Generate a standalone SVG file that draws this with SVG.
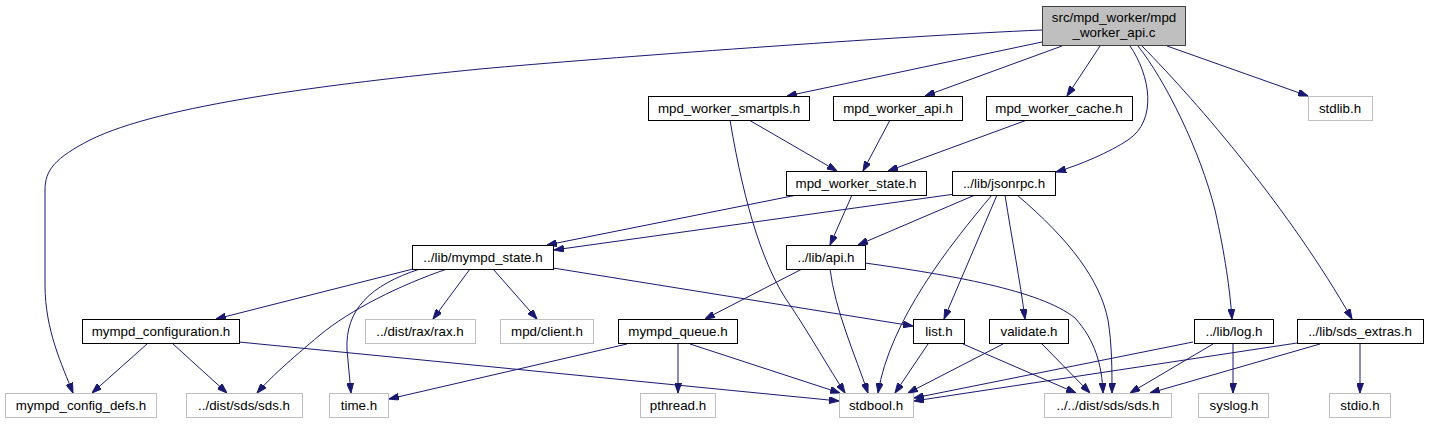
<svg xmlns="http://www.w3.org/2000/svg" width="1429" height="425" viewBox="0 0 1429 425">
<style>
text{font-family:"Liberation Sans",Arial,Helvetica,sans-serif;font-size:13.33px;text-anchor:middle;fill:#000}
.n rect{fill:#fff;stroke:#000;stroke-width:1}
.g rect{fill:#fff;stroke:#bfbfbf;stroke-width:1}
.r rect{fill:#bfbfbf;stroke:#404040;stroke-width:1}
#edges path{fill:none;stroke:#191970;stroke-width:1;marker-end:url(#arr)}
</style>
<defs>
<marker id="arr" viewBox="0 0 10 7" refX="10" refY="3.5" markerWidth="10" markerHeight="7" markerUnits="userSpaceOnUse" orient="auto">
<path d="M0,0 L10,3.5 L0,7 z" fill="#191970" stroke="#191970" stroke-width="1"/>
</marker>
</defs>
<rect width="1429" height="425" fill="#fff"/>
<g id="edges">
<path d="M1042,30 C900,36 600,58 480,69 C330,84 160,105 90,140 C55,158 45,170 45,190 L45,285 C45,330 62,365 73,393"/>
<path d="M1042,42 L787,96"/>
<path d="M1062,46 L925,96"/>
<path d="M1100,46 L1067,96"/>
<path d="M1167,46 L1308,96"/>
<path d="M1130,46 C1150,75 1158,120 1128,140 C1110,152 1080,165 1056,172"/>
<path d="M1138,46 C1165,80 1200,150 1215,210 C1225,255 1230,290 1232,319"/>
<path d="M1142,46 C1200,105 1290,210 1352,319"/>
<path d="M749,120 L837,171"/>
<path d="M730,120 C745,210 765,270 790,305 C810,335 830,370 845,393"/>
<path d="M890,120 L863,171"/>
<path d="M1027,120 L888,171"/>
<path d="M797,195 L547,245"/>
<path d="M852,195 L830,245"/>
<path d="M955,194 L554,250"/>
<path d="M975,195 L858,245"/>
<path d="M992,195 C950,245 890,320 878,393"/>
<path d="M997,195 L944,319"/>
<path d="M1005,195 C1012,240 1020,280 1025,319"/>
<path d="M1017,195 C1070,240 1100,280 1108,320 C1112,345 1112,370 1112,393"/>
<path d="M413,269 L216,319"/>
<path d="M447,269 C400,285 350,310 320,335 C290,360 270,378 257,393"/>
<path d="M420,269 C370,285 345,310 347,350 L351,393"/>
<path d="M470,269 L433,319"/>
<path d="M493,269 L537,319"/>
<path d="M553,268 L913,326"/>
<path d="M147,344 L92,393"/>
<path d="M173,344 L227,393"/>
<path d="M239,342 L839,401"/>
<path d="M802,269 L705,319"/>
<path d="M830,269 C835,310 855,355 868,393"/>
<path d="M865,263 C950,275 1040,290 1075,318 C1095,340 1102,365 1103,393"/>
<path d="M627,344 L389,399"/>
<path d="M678,344 L678,393"/>
<path d="M690,344 L840,393"/>
<path d="M928,344 L895,393"/>
<path d="M963,344 L1076,393"/>
<path d="M1003,344 L908,393"/>
<path d="M1042,344 L1090,393"/>
<path d="M1193,342 L914,398"/>
<path d="M1213,344 L1130,393"/>
<path d="M1233,344 L1233,393"/>
<path d="M1297,343 L914,401"/>
<path d="M1320,344 L1150,393"/>
<path d="M1360,344 L1360,393"/>
</g>
<g id="root" class="r"><rect x="1042.5" y="6.5" width="143" height="39"/><text x="1114" y="22">src/mpd_worker/mpd</text><text x="1114" y="37">_worker_api.c</text></g>
<g id="smartpls" class="n"><rect x="648.5" y="96.5" width="161" height="24"/><text x="729" y="113">mpd_worker_smartpls.h</text></g>
<g id="worker_api" class="n"><rect x="833.5" y="96.5" width="129" height="24"/><text x="898" y="113">mpd_worker_api.h</text></g>
<g id="cache" class="n"><rect x="986.5" y="96.5" width="146" height="24"/><text x="1059" y="113">mpd_worker_cache.h</text></g>
<g id="stdlib" class="g"><rect x="1308.5" y="96.5" width="64" height="24"/><text x="1340" y="113">stdlib.h</text></g>
<g id="state" class="n"><rect x="786.5" y="171.5" width="140" height="24"/><text x="856" y="188">mpd_worker_state.h</text></g>
<g id="jsonrpc" class="n"><rect x="952.5" y="171.5" width="103" height="24"/><text x="1004" y="188">../lib/jsonrpc.h</text></g>
<g id="mympd_state" class="n"><rect x="412.5" y="245.5" width="141" height="24"/><text x="483" y="262">../lib/mympd_state.h</text></g>
<g id="api" class="n"><rect x="786.5" y="245.5" width="79" height="24"/><text x="826" y="262">../lib/api.h</text></g>
<g id="configuration" class="n"><rect x="82.5" y="319.5" width="157" height="24"/><text x="161" y="336">mympd_configuration.h</text></g>
<g id="rax" class="g"><rect x="365.5" y="319.5" width="110" height="24"/><text x="420" y="336">../dist/rax/rax.h</text></g>
<g id="client" class="g"><rect x="500.5" y="319.5" width="93" height="24"/><text x="547" y="336">mpd/client.h</text></g>
<g id="queue" class="n"><rect x="618.5" y="319.5" width="119" height="24"/><text x="678" y="336">mympd_queue.h</text></g>
<g id="list" class="n"><rect x="913.5" y="319.5" width="51" height="24"/><text x="939" y="336">list.h</text></g>
<g id="validate" class="n"><rect x="989.5" y="319.5" width="79" height="24"/><text x="1029" y="336">validate.h</text></g>
<g id="log" class="n"><rect x="1194.5" y="319.5" width="79" height="24"/><text x="1234" y="336">../lib/log.h</text></g>
<g id="sds_extras" class="n"><rect x="1297.5" y="319.5" width="126" height="24"/><text x="1360" y="336">../lib/sds_extras.h</text></g>
<g id="config_defs" class="g"><rect x="5.5" y="393.5" width="151" height="24"/><text x="81" y="410">mympd_config_defs.h</text></g>
<g id="dist_sds" class="g"><rect x="186.5" y="393.5" width="116" height="24"/><text x="244" y="410">../dist/sds/sds.h</text></g>
<g id="time" class="g"><rect x="329.5" y="393.5" width="59" height="24"/><text x="359" y="410">time.h</text></g>
<g id="pthread" class="g"><rect x="640.5" y="393.5" width="75" height="24"/><text x="678" y="410">pthread.h</text></g>
<g id="stdbool" class="g"><rect x="839.5" y="393.5" width="74" height="24"/><text x="876" y="410">stdbool.h</text></g>
<g id="dd_sds" class="g"><rect x="1044.5" y="393.5" width="127" height="24"/><text x="1108" y="410">../../dist/sds/sds.h</text></g>
<g id="syslog" class="g"><rect x="1198.5" y="393.5" width="70" height="24"/><text x="1234" y="410">syslog.h</text></g>
<g id="stdio" class="g"><rect x="1329.5" y="393.5" width="61" height="24"/><text x="1360" y="410">stdio.h</text></g>
</svg>
